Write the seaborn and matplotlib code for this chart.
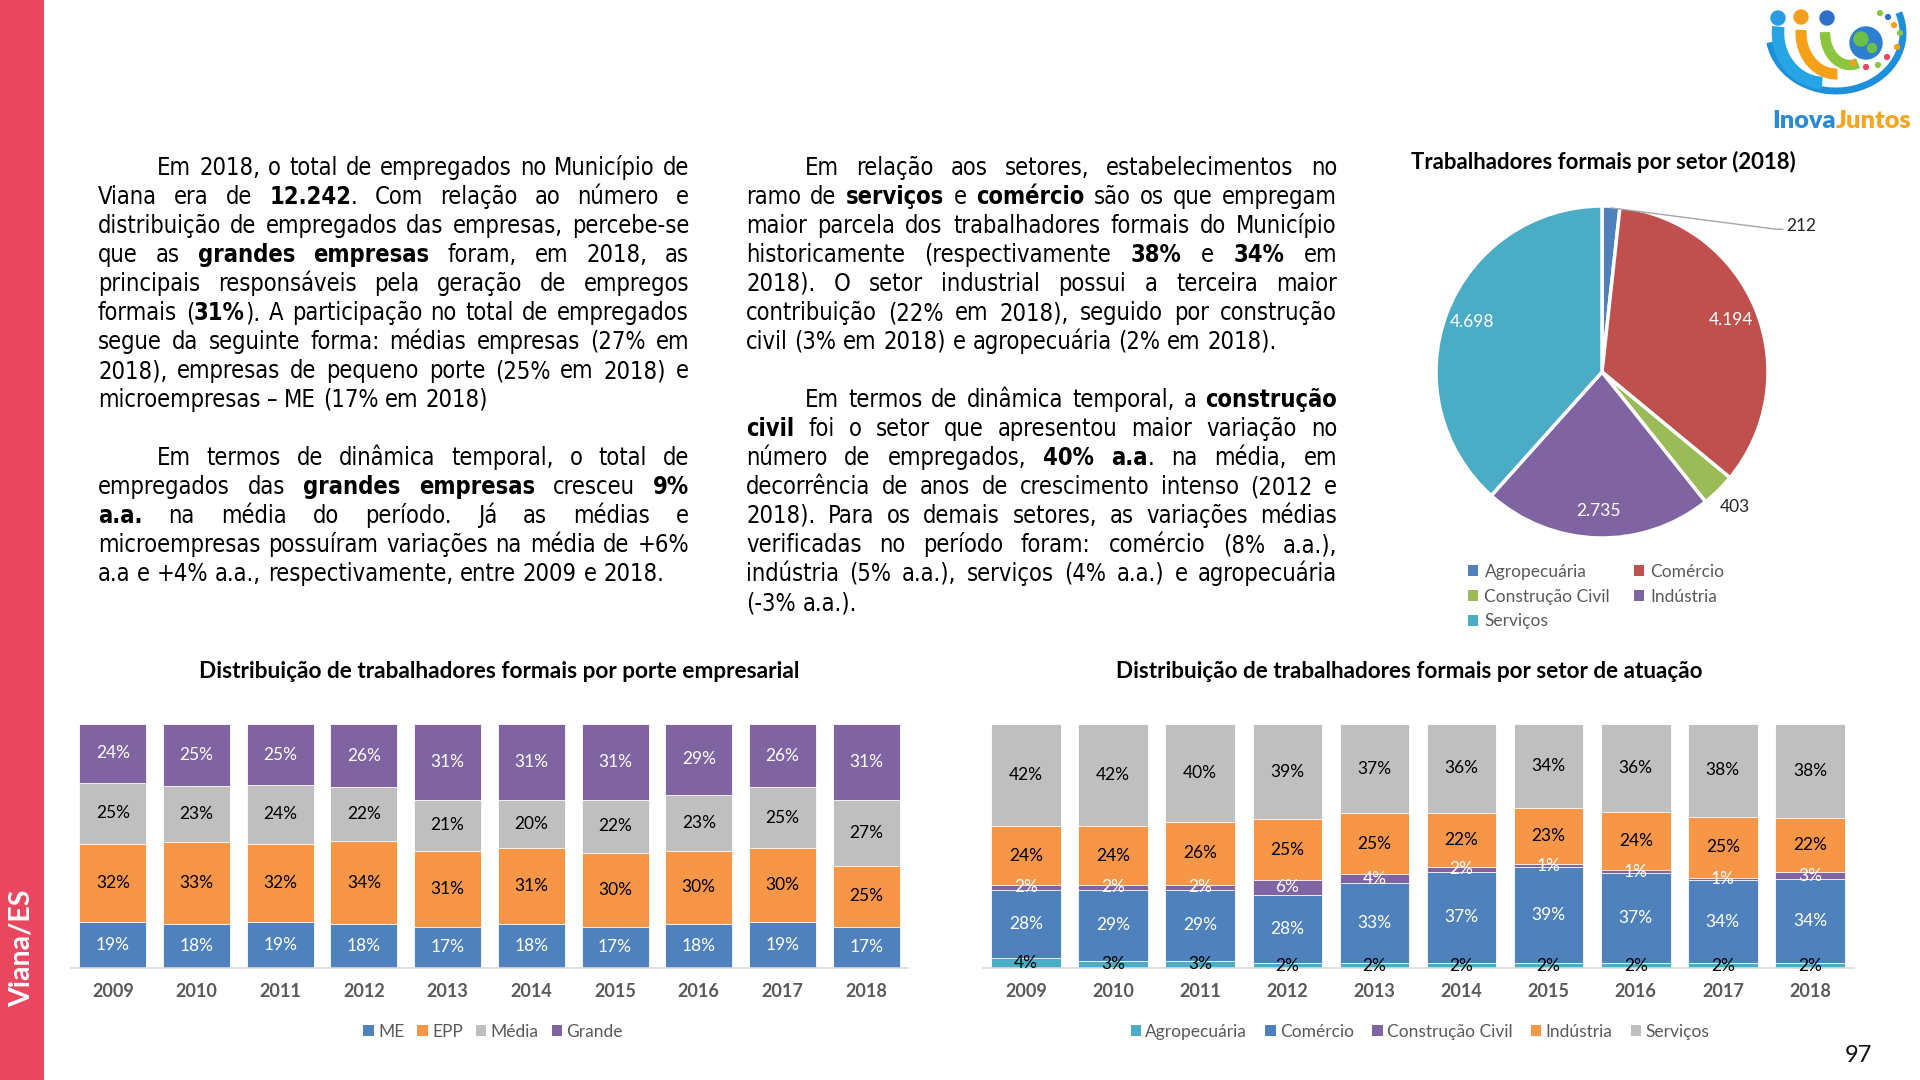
import os, glob
import numpy as np
import pandas as pd
import matplotlib
matplotlib.use('Agg')
import matplotlib.pyplot as plt
import seaborn as sns
from matplotlib.patches import Rectangle, Circle, Arc
from matplotlib.lines import Line2D
from matplotlib import font_manager
from matplotlib.font_manager import FontProperties

# ---------------- data ----------------
years = ['2009', '2010', '2011', '2012', '2013', '2014', '2015', '2016', '2017', '2018']

porte_labels = ['ME', 'EPP', 'Média', 'Grande']
me = [19, 18, 19, 18, 17, 18, 17, 18, 19, 17]
epp = [32, 33, 32, 34, 31, 31, 30, 30, 30, 25]
media = [25, 23, 24, 22, 21, 20, 22, 23, 25, 27]
grande = [24, 25, 25, 26, 31, 31, 31, 29, 26, 31]

setor_labels = ['Agropecuária', 'Comércio', 'Construção Civil', 'Indústria', 'Serviços']
agro = [4, 3, 3, 2, 2, 2, 2, 2, 2, 2]
comercio = [28, 29, 29, 28, 33, 37, 39, 37, 34, 34]
construcao = [2, 2, 2, 6, 4, 2, 1, 1, 1, 3]
industria = [24, 24, 26, 25, 25, 22, 23, 24, 25, 22]
servicos = [42, 42, 40, 39, 37, 36, 34, 36, 38, 38]

pie_labels = ['Agropecuária', 'Comércio', 'Construção Civil', 'Indústria', 'Serviços']
pie_values = [212, 4194, 403, 2735, 4698]

pie_title = 'Trabalhadores formais por setor (2018)'
porte_title = 'Distribuição de trabalhadores formais por porte empresarial'
setor_title = 'Distribuição de trabalhadores formais por setor de atuação'

col1 = [
    ["Em 2018, o total de empregados no Município de",
     "Viana era de *12.242*. Com relação ao número e",
     "distribuição de empregados das empresas, percebe-se",
     "que as *grandes empresas* foram, em 2018, as",
     "principais responsáveis pela geração de empregos",
     "formais (*31%*). A participação no total de empregados",
     "segue da seguinte forma: médias empresas (27% em",
     "2018), empresas de pequeno porte (25% em 2018) e",
     "microempresas – ME (17% em 2018)"],
    ["Em termos de dinâmica temporal, o total de",
     "empregados das *grandes empresas* cresceu *9%*",
     "*a.a.* na média do período. Já as médias e",
     "microempresas possuíram variações na média de +6%",
     "a.a e +4% a.a., respectivamente, entre 2009 e 2018."],
]
col2 = [
    ["Em relação aos setores, estabelecimentos no",
     "ramo de *serviços* e *comércio* são os que empregam",
     "maior parcela dos trabalhadores formais do Município",
     "historicamente (respectivamente *38%* e *34%* em",
     "2018). O setor industrial possui a terceira maior",
     "contribuição (22% em 2018), seguido por construção",
     "civil (3% em 2018) e agropecuária (2% em 2018)."],
    ["Em termos de dinâmica temporal, a *construção*",
     "*civil* foi o setor que apresentou maior variação no",
     "número de empregados, *40% a.a*. na média, em",
     "decorrência de anos de crescimento intenso (2012 e",
     "2018). Para os demais setores, as variações médias",
     "verificadas no período foram: comércio (8% a.a.),",
     "indústria (5% a.a.), serviços (4% a.a.) e agropecuária",
     "(-3% a.a.)."],
]

# ---------------- style ----------------
sns.set_theme(style='white')
plt.rcParams['font.family'] = ['Lato', 'DejaVu Sans']

BLUE = '#4F81BD'; ORANGE = '#F79646'; GREY = '#BFBFBF'; PURPLE = '#8064A2'
TEAL = '#4BACC6'; RED = '#C0504D'; GREEN = '#9BBB59'
TXT = '#595959'

W, H = 1920, 1080
fig = plt.figure(figsize=(19.2, 10.8), dpi=100)
fig.patch.set_facecolor('white')
renderer = fig.canvas.get_renderer()


def fx(x):
    return x / W


def fy(y):
    return 1 - y / H


def px_axes(x0, y0, x1, y1):
    return fig.add_axes([x0 / W, 1 - y1 / H, (x1 - x0) / W, (y1 - y0) / H])


def fit_text(x, y, s, target_w, base=14, ha='center', va='center', **kw):
    t = fig.text(fx(x), fy(y), s, fontsize=base, ha=ha, va=va, **kw)
    w = t.get_window_extent(renderer).width
    t.set_fontsize(base * target_w / w)
    return t


# ---------------- sidebar ----------------
fig.add_artist(Rectangle((0, 0), 44 / W, 1, transform=fig.transFigure,
                         facecolor='#E8475F', edgecolor='none', zorder=0))
fig.text(fx(22), fy(948), 'Viana/ES', rotation=90, color='white', fontweight='bold',
         fontsize=20.5, ha='center', va='center')
fig.text(fx(1858), fy(1056), '97', fontsize=17, ha='center', va='center', color='#111111')

# ---------------- body text (justified) ----------------
def find_file(name):
    for f in font_manager.fontManager.ttflist:
        if os.path.basename(f.fname) == name:
            return f.fname
    for p in glob.glob('/usr/share/fonts/**/' + name, recursive=True):
        return p
    return None


REG = find_file('DejaVuSansCondensed.ttf')
BLD = find_file('DejaVuSansCondensed-Bold.ttf')


def body_fp(bold, size):
    if REG and BLD:
        return FontProperties(fname=BLD if bold else REG, size=size)
    return FontProperties(family='DejaVu Sans', weight='bold' if bold else 'normal', size=size)


_cache = {}


def tw(s, bold, size):
    key = (s, bold, size)
    if key not in _cache:
        t = fig.text(0, 0, s, fontproperties=body_fp(bold, size))
        _cache[key] = t.get_window_extent(renderer).width
        t.remove()
    return _cache[key]


def parse(line):
    words, cur, seg, bold = [], [], '', False
    for ch in line:
        if ch == '*':
            if seg:
                cur.append((seg, bold)); seg = ''
            bold = not bold
        elif ch == ' ':
            if seg:
                cur.append((seg, bold)); seg = ''
            if cur:
                words.append(cur); cur = []
        else:
            seg += ch
    if seg:
        cur.append((seg, bold))
    if cur:
        words.append(cur)
    return words


INDENT = 59
LH = 29.0
FIRST = 175
COL1 = (98, 689)
COL2 = (746, 1337)


def space_w(size):
    return tw('a a', False, size) - tw('aa', False, size)


def natural(line, size, indent):
    ws = parse(line)
    return indent + sum(tw(s, b, size) for w in ws for s, b in w) + space_w(size) * (len(ws) - 1)


S0 = 18
ratios = []
for cols, (x0, x1) in ((col1, COL1), (col2, COL2)):
    for par in cols:
        for li, line in enumerate(par[:-1]):
            ratios.append((x1 - x0) / natural(line, S0, INDENT if li == 0 else 0))
BODY = min(S0 * min(ratios) * 0.995, 19)


def draw_column(pars, x0, x1):
    row = 0
    for par in pars:
        for li, line in enumerate(par):
            words = parse(line)
            indent = INDENT if li == 0 else 0
            widths = [sum(tw(s, b, BODY) for s, b in w) for w in words]
            if li < len(par) - 1 and len(words) > 1:
                gap = (x1 - x0 - indent - sum(widths)) / (len(words) - 1)
            else:
                gap = space_w(BODY)
            x = x0 + indent
            y = FIRST + row * LH
            for w, wd in zip(words, widths):
                xx = x
                for s, b in w:
                    fig.text(fx(xx), fy(y), s, fontproperties=body_fp(b, BODY),
                             va='baseline', ha='left', color='black')
                    xx += tw(s, b, BODY)
                x += wd + gap
            row += 1
        row += 1


draw_column(col1, *COL1)
draw_column(col2, *COL2)

# ---------------- stacked bar charts ----------------
def stacked(ax, series, colors, label_colors):
    arr = np.array(series, dtype=float)
    h = arr / arr.sum(axis=0) * 100
    cum = np.cumsum(h, axis=0)
    for k in range(len(series) - 1, -1, -1):
        df = pd.DataFrame({'year': years, 'v': cum[k]})
        sns.barplot(data=df, x='year', y='v', order=years, color=colors[k], saturation=1,
                    width=0.8, errorbar=None, edgecolor='white', linewidth=0.6, ax=ax)
    for k in range(len(series)):
        for i in range(len(years)):
            ax.text(i, cum[k, i] - h[k, i] / 2, f'{series[k][i]}%', ha='center', va='center',
                    color=label_colors[k], fontsize=12.5)
    ax.set_xlim(-0.5, len(years) - 0.5)
    ax.set_ylim(0, 100)
    ax.set_xlabel(''); ax.set_ylabel('')
    ax.set_yticks([])
    for sp in ['top', 'left', 'right']:
        ax.spines[sp].set_visible(False)
    ax.spines['bottom'].set_color('#D9D9D9')
    ax.spines['bottom'].set_linewidth(1.2)
    ax.tick_params(axis='x', length=0, pad=11, labelsize=13, labelcolor=TXT)
    for t in ax.get_xticklabels():
        t.set_fontweight('bold')
    ax.set_facecolor('none')


ax1 = px_axes(71, 724, 908, 968)
stacked(ax1, [me, epp, media, grande], [BLUE, ORANGE, GREY, PURPLE],
        ['white', 'black', 'black', 'white'])
ax2 = px_axes(982.5, 724, 1853.5, 968)
stacked(ax2, [agro, comercio, construcao, industria, servicos],
        [TEAL, BLUE, PURPLE, ORANGE, GREY],
        ['black', 'white', 'white', 'black', 'black'])

fit_text(499, 672, porte_title, 605, fontweight='bold', color='black')
fit_text(1409, 672, setor_title, 590, fontweight='bold', color='black')


def square_handles(colors):
    return [Rectangle((0, 0), 1, 1, facecolor=c, edgecolor='none') for c in colors]


fig.legend(square_handles([BLUE, ORANGE, GREY, PURPLE]), porte_labels, loc='center',
           bbox_to_anchor=(fx(493), fy(1032)), ncol=4, frameon=False, fontsize=12.5,
           handlelength=0.6, handleheight=0.6, handletextpad=0.25, columnspacing=0.75,
           labelcolor=TXT)
fig.legend(square_handles([TEAL, BLUE, PURPLE, ORANGE, GREY]), setor_labels, loc='center',
           bbox_to_anchor=(fx(1420), fy(1032)), ncol=5, frameon=False, fontsize=12.5,
           handlelength=0.6, handleheight=0.6, handletextpad=0.25, columnspacing=1.05,
           labelcolor=TXT)

# ---------------- pie ----------------
PCX, PCY, PR = 1602, 372, 166
pie_colors = [BLUE, RED, GREEN, PURPLE, TEAL]
axp = px_axes(PCX - PR * 1.02, PCY - PR * 1.02, PCX + PR * 1.02, PCY + PR * 1.02)
wedges, _ = axp.pie(pie_values, colors=pie_colors, startangle=90, counterclock=False,
                    radius=1, wedgeprops=dict(edgecolor='white', linewidth=2.5))
axp.set_xlim(-1.02, 1.02); axp.set_ylim(-1.02, 1.02)
axp.set_aspect('equal')
axp.axis('off')
total = sum(pie_values)
for w, v in zip(wedges, pie_values):
    ang = np.deg2rad((w.theta1 + w.theta2) / 2)
    lab = f'{v:,}'.replace(',', '.')
    if v / total > 0.1:
        r = 0.84
        axp.text(r * np.cos(ang), r * np.sin(ang), lab, ha='center', va='center',
                 color='white', fontsize=12.5)
    elif v / total > 0.025:
        r = 1.14
        axp.text(r * np.cos(ang), r * np.sin(ang), lab, ha='center', va='center',
                 color='#262626', fontsize=12.5)
    else:
        sx, sy = 0.99 * np.cos(ang), 0.99 * np.sin(ang)
        axp.add_line(Line2D([sx, 1.05, 1.09], [sy, 0.86, 0.86], color='#A6A6A6', lw=1,
                            clip_on=False))
        axp.text(1.11, 0.88, lab, ha='left', va='center', color='#262626', fontsize=12.5)

fit_text(1603, 162, pie_title, 387, fontweight='bold', color='black')

order = [0, 2, 4, 1, 3]
fig.legend([square_handles(pie_colors)[i] for i in order], [pie_labels[i] for i in order],
           loc='upper left', bbox_to_anchor=(fx(1468), fy(564)), ncol=2, frameon=False,
           fontsize=12.5, handlelength=0.6, handleheight=0.6, handletextpad=0.35,
           columnspacing=1.35, labelspacing=0.5, borderpad=0, borderaxespad=0,
           labelcolor=TXT)

# ---------------- logo ----------------
axl = px_axes(1766, 4, 1916, 131)
axl.set_xlim(0, 150); axl.set_ylim(0, 127); axl.axis('off')
axl.add_patch(Arc((70, 98), 134, 116, theta1=188, theta2=378, lw=5, color='#1E8FDA'))
axl.add_patch(Arc((58, 98), 92, 100, theta1=172, theta2=268, lw=9, color='#27A4E3'))
axl.add_patch(Arc((70, 98), 70, 82, theta1=175, theta2=272, lw=8, color='#F6A01A'))
axl.add_patch(Arc((84, 98), 50, 64, theta1=178, theta2=285, lw=7.5, color='#8CC63F'))
for (cx, cy, c) in [(12, 113, '#2A9BE0'), (35, 114, '#F6A01A'), (61, 113, '#2F6FCB')]:
    axl.add_patch(Circle((cx, cy), 7, color=c))
axl.add_patch(Circle((100, 88), 16, color='#2D7FD0'))
axl.add_patch(Circle((95, 92), 7, color='#6CC04A'))
axl.add_patch(Circle((106, 83), 4.5, color='#6CC04A'))
for (cx, cy, c) in [(122, 114, '#2F6FCB'), (128, 106, '#F6A01A'), (134, 98, '#8CC63F'),
                    (121, 74, '#E8475F'), (112, 66, '#8CC63F'), (100, 64, '#E8475F'),
                    (87, 68, '#F6A01A'), (131, 84, '#F6A01A'), (114, 118, '#8CC63F')]:
    axl.add_patch(Circle((cx, cy), 2.4, color=c))

# logo wordmark: one font size for both words, fitted to the full width
probe = fig.text(0, 0, 'InovaJuntos', fontsize=18, fontweight='heavy')
logo_size = 18 * 139 / probe.get_window_extent(renderer).width
probe.remove()
probe = fig.text(0, 0, 'Inova', fontsize=logo_size, fontweight='heavy')
w_inova = probe.get_window_extent(renderer).width
probe.remove()
fig.text(fx(1772), fy(128), 'Inova', fontsize=logo_size, fontweight='heavy',
         color='#2B8AD6', ha='left', va='baseline')
fig.text(fx(1772 + w_inova), fy(128), 'Juntos', fontsize=logo_size, fontweight='heavy',
         color='#F7A520', ha='left', va='baseline')

fig.savefig('out.png', dpi=100, facecolor='white')
